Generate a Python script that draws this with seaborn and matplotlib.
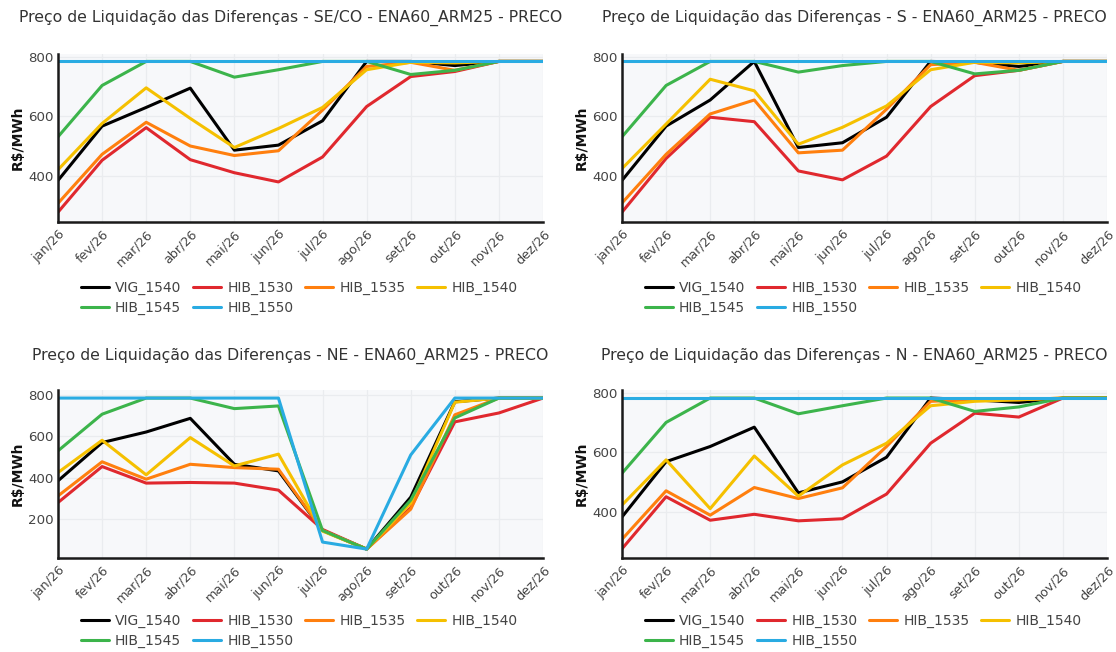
import numpy as np
import pandas as pd
import matplotlib
matplotlib.use("Agg")
import matplotlib.pyplot as plt
import seaborn as sns

sns.set_theme(style="white")
plt.rcParams['font.family'] = ['DejaVu Sans']

months = ["jan/26", "fev/26", "mar/26", "abr/26", "mai/26", "jun/26",
          "jul/26", "ago/26", "set/26", "out/26", "nov/26", "dez/26"]
series = ["VIG_1540", "HIB_1530", "HIB_1535", "HIB_1540", "HIB_1545", "HIB_1550"]
colors = ["#000000", "#e0282e", "#ff7f0e", "#f5c000", "#3cb44b", "#29abe2"]

# SE/CO
seco_vig_1540 = [384, 567, 630, 695, 486, 503, 585, 785, 785, 771, 785, 785]
seco_hib_1530 = [277, 452, 562, 454, 410, 379, 463, 633, 734, 751, 785, 785]
seco_hib_1535 = [307, 472, 580, 500, 468, 484, 621, 768, 782, 755, 785, 785]
seco_hib_1540 = [420, 576, 696, 593, 495, 559, 630, 757, 782, 780, 785, 785]
seco_hib_1545 = [531, 704, 785, 785, 732, 757, 785, 785, 741, 755, 785, 785]
seco_hib_1550 = [785, 785, 785, 785, 785, 785, 785, 785, 785, 785, 785, 785]

# S
s_vig_1540 = [384, 567, 655, 785, 495, 511, 597, 785, 782, 768, 785, 785]
s_hib_1530 = [277, 458, 597, 582, 416, 386, 466, 633, 737, 755, 785, 785]
s_hib_1535 = [308, 472, 608, 655, 477, 486, 624, 774, 782, 755, 785, 785]
s_hib_1540 = [424, 574, 725, 686, 506, 563, 635, 757, 782, 780, 785, 785]
s_hib_1545 = [531, 704, 785, 785, 749, 771, 785, 785, 743, 755, 785, 785]
s_hib_1550 = [785, 785, 785, 785, 785, 785, 785, 785, 785, 785, 785, 785]

# NE
ne_vig_1540 = [385, 570, 621, 687, 465, 433, 145, 55, 306, 767, 785, 785]
ne_hib_1530 = [280, 454, 374, 377, 374, 340, 150, 55, 255, 670, 713, 785]
ne_hib_1535 = [312, 477, 393, 465, 449, 441, 145, 55, 248, 704, 785, 785]
ne_hib_1540 = [425, 581, 414, 594, 457, 514, 142, 55, 277, 765, 785, 785]
ne_hib_1545 = [530, 707, 785, 785, 734, 747, 145, 55, 292, 689, 785, 785]
ne_hib_1550 = [785, 785, 785, 785, 785, 785, 89, 55, 510, 785, 785, 785]

# N
n_vig_1540 = [383, 569, 620, 685, 464, 501, 584, 783, 777, 768, 783, 783]
n_hib_1530 = [276, 451, 372, 392, 370, 377, 460, 631, 732, 719, 783, 783]
n_hib_1535 = [308, 471, 389, 482, 445, 481, 620, 772, 777, 777, 783, 783]
n_hib_1540 = [423, 575, 411, 588, 453, 558, 631, 757, 772, 777, 783, 783]
n_hib_1545 = [530, 701, 783, 783, 730, 757, 783, 783, 738, 753, 783, 783]
n_hib_1550 = [783, 783, 783, 783, 783, 783, 783, 783, 783, 783, 783, 783]

panels = [
    ("SE/CO", [seco_vig_1540, seco_hib_1530, seco_hib_1535, seco_hib_1540, seco_hib_1545, seco_hib_1550]),
    ("S", [s_vig_1540, s_hib_1530, s_hib_1535, s_hib_1540, s_hib_1545, s_hib_1550]),
    ("NE", [ne_vig_1540, ne_hib_1530, ne_hib_1535, ne_hib_1540, ne_hib_1545, ne_hib_1550]),
    ("N", [n_vig_1540, n_hib_1530, n_hib_1535, n_hib_1540, n_hib_1545, n_hib_1550]),
]

W, H = 1116, 652
fig = plt.figure(figsize=(W / 100, H / 100), dpi=100)

def fx(px):
    return px / W

def fy(py):
    return 1 - py / H

cols = [(58, 543), (622, 1107)]
rows = [(54, 222), (390, 558)]
ylims = [(244, 810), (244, 810), (12, 824), (245, 810)]
yticks = [[400, 600, 800], [400, 600, 800], [200, 400, 600, 800], [400, 600, 800]]
title_y = [18, 18, 356, 356]
legend_y = [281, 281, 614, 614]

text_color = "#444444"
palette = dict(zip(series, colors))

for i, (region, vals) in enumerate(panels):
    c = cols[i % 2]
    r = rows[i // 2]
    ax = fig.add_axes([fx(c[0]), fy(r[1]), fx(c[1]) - fx(c[0]), (r[1] - r[0]) / H])
    recs = []
    for s, v in zip(series, vals):
        for m_i, val in enumerate(v):
            recs.append({"x": m_i, "value": val, "serie": s})
    df = pd.DataFrame(recs)
    sns.lineplot(data=df, x="x", y="value", hue="serie", hue_order=series,
                 palette=palette, linewidth=2.2, ax=ax, sort=False, legend=True)
    ax.set_facecolor("#f7f8fa")
    ax.set_xlim(0, 11)
    ax.set_ylim(*ylims[i])
    ax.set_xticks(range(12))
    ax.set_xticklabels(months, rotation=45, ha="right", rotation_mode="anchor",
                       fontsize=9.2, color=text_color)
    ax.set_yticks(yticks[i])
    ax.set_yticklabels([str(t) for t in yticks[i]], fontsize=9.6, color=text_color)
    ax.tick_params(axis="both", length=0, pad=3)
    ax.tick_params(axis="x", pad=4)
    ax.grid(True, color="#eaecef", linewidth=0.9)
    ax.set_axisbelow(True)
    for side in ["top", "right"]:
        ax.spines[side].set_visible(False)
    for side in ["left", "bottom"]:
        ax.spines[side].set_color("#1a1a1a")
        ax.spines[side].set_linewidth(1.8)
    ax.set_xlabel("")
    ax.set_ylabel("")
    handles, labels = ax.get_legend_handles_labels()
    ax.get_legend().remove()
    order = [0, 4, 1, 5, 2, 3]
    hh = [handles[k] for k in order]
    ll = [labels[k] for k in order]
    for h in hh:
        h.set_linewidth(2.2)
    fig.legend(hh, ll, loc="upper left",
               bbox_to_anchor=(fx(c[0] + 23), fy(legend_y[i])),
               ncol=4, frameon=False, fontsize=10, borderpad=0, borderaxespad=0,
               handlelength=2.0, handletextpad=0.45, columnspacing=0.85,
               labelspacing=0.4, labelcolor=text_color)
    fig.text(fx((c[0] + c[1]) / 2 - 10), fy(title_y[i]),
             f"Preço de Liquidação das Diferenças - {region} - ENA60_ARM25 - PRECO",
             ha="center", va="center", fontsize=11.3, color="#333333")
    fig.text(fx(c[0] - 40), fy((r[0] + r[1]) / 2), "R$/MWh", rotation=90,
             ha="center", va="center", fontsize=10, fontweight="bold", color="#111111")

fig.savefig("out.png", dpi=100, facecolor="white")
